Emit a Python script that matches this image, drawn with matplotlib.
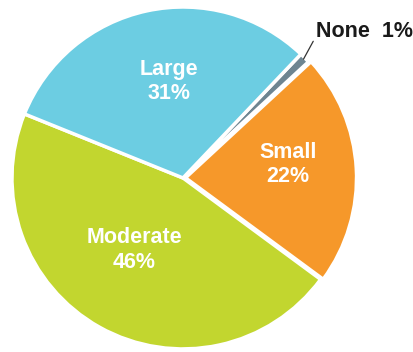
import numpy as np
import matplotlib.pyplot as plt

plt.rcParams['font.family'] = ['Liberation Sans', 'DejaVu Sans']

# --- Data ---
categories = ["Moderate", "Small", "None", "Large"]
shares = [46, 22, 1, 31]
colors = ["#c2d62f", "#f6982a", "#6e8591", "#6ccde2"]

# radial position of the in-slice labels (fraction of radius)
label_r = [0.51, 0.62, None, 0.57]
label_shift = [-5, 4, 0, -4]  # degrees

fig = plt.figure(figsize=(4.14, 3.52), dpi=100)
ax = fig.add_axes([0, 0, 1, 1])

wedges, _ = ax.pie(shares, colors=colors, startangle=158, counterclock=True,
                   explode=[0, 0.015, 0, 0],
                   wedgeprops=dict(edgecolor="white", linewidth=2.5))

for w, name, val, r, sh in zip(wedges, categories, shares, label_r, label_shift):
    if r is None:
        continue
    ang = np.deg2rad((w.theta1 + w.theta2) / 2 + sh)
    ax.text(r * np.cos(ang), r * np.sin(ang), f"{name}\n{val}%",
            ha="center", va="center", color="white", fontsize=15.5,
            fontweight="bold", linespacing=1.2)

# callout for the tiny slice
w = wedges[2]
ang = np.deg2rad((w.theta1 + w.theta2) / 2)
tip = (0.99 * np.cos(ang), 0.99 * np.sin(ang))
ax.annotate(f"{categories[2]}  {shares[2]}%", xy=tip, xytext=(0.778, 0.854),
            ha="left", va="center", fontsize=15.5, fontweight="bold",
            color="#1a1a1a",
            arrowprops=dict(arrowstyle="-", color="#333333", lw=0.9,
                            shrinkA=0, shrinkB=0,
                            relpos=(0, 0.3)))

ax.set_xlim(-1.070, 1.351)
ax.set_ylim(-1.018, 1.041)
ax.set_aspect("auto")
ax.axis("off")

fig.savefig("out.png", dpi=100)
